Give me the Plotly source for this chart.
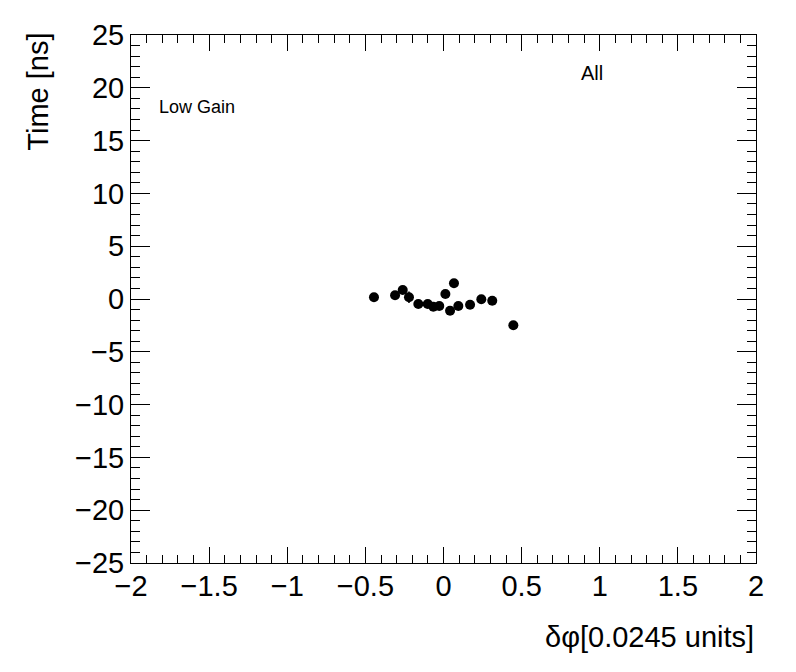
import plotly.graph_objects as go

dphi = [-0.445, -0.31, -0.261, -0.221, -0.161, -0.101, -0.065, -0.027, 0.012, 0.067, 0.042, 0.095, 0.170, 0.242, 0.312, 0.447]
time_ns = [0.16, 0.35, 0.85, 0.16, -0.47, -0.47, -0.73, -0.66, 0.47, 1.49, -1.11, -0.66, -0.54, -0.03, -0.16, -2.49]
time_err = [0.3, 0.3, 0.3, 0.55, 0.3, 0.3, 0.3, 0.3, 0.3, 0.3, 0.3, 0.3, 0.3, 0.3, 0.3, 0.3]

x_ticks = [-2, -1.5, -1, -0.5, 0, 0.5, 1, 1.5, 2]
x_ticklabels = ["\u22122", "\u22121.5", "\u22121", "\u22120.5", "0", "0.5", "1", "1.5", "2"]
y_ticks = [-25, -20, -15, -10, -5, 0, 5, 10, 15, 20, 25]
y_ticklabels = ["\u221225", "\u221220", "\u221215", "\u221210", "\u22125", "0", "5", "10", "15", "20", "25"]

FONT = "Liberation Sans, Arial, Helvetica, sans-serif"

fig = go.Figure()
fig.add_trace(go.Scatter(
    x=dphi, y=time_ns, mode="markers",
    marker=dict(color="black", size=10, symbol="circle"),
    error_y=dict(type="data", array=time_err, color="black", thickness=1.5, width=0),
    showlegend=False,
))

axis_common = dict(
    showgrid=False, zeroline=False, showline=True, linecolor="black", linewidth=1,
    mirror="ticks", ticks="inside", tickcolor="black", tickwidth=1,
    tickfont=dict(family=FONT, size=29, color="black"),
)

fig.update_xaxes(
    range=[-2, 2], tickvals=x_ticks, ticktext=x_ticklabels, ticklen=16,
    ticklabelstandoff=-3,
    minor=dict(dtick=0.1, ticklen=8, ticks="inside", tickcolor="black", showgrid=False),
    **axis_common,
)
fig.update_yaxes(
    range=[-25, 25], tickvals=y_ticks, ticktext=y_ticklabels, ticklen=19,
    minor=dict(dtick=1, ticklen=9, ticks="inside", tickcolor="black", showgrid=False),
    **axis_common,
)

fig.update_layout(
    width=796, height=672,
    margin=dict(l=123, r=48, t=27, b=117),
    plot_bgcolor="white", paper_bgcolor="white",
    font=dict(family=FONT, color="black"),
    annotations=[
        dict(text="Time [ns]", xref="paper", yref="paper", x=-0.149, y=1.008,
             xanchor="center", yanchor="top", textangle=-90, showarrow=False,
             font=dict(size=29, family=FONT)),
        dict(text="\u03b4\u03c6[0.0245 units]", xref="paper", yref="paper", x=1.0, y=-0.140,
             xanchor="right", yanchor="middle", showarrow=False,
             font=dict(size=29, family=FONT)),
        dict(text="Low Gain", xref="paper", yref="paper", x=0.042, y=0.864,
             xanchor="left", yanchor="middle", showarrow=False,
             font=dict(size=18, family=FONT)),
        dict(text="All", xref="paper", yref="paper", x=0.717, y=0.928,
             xanchor="left", yanchor="middle", showarrow=False,
             font=dict(size=20, family=FONT)),
    ],
)

fig.write_html("out.html")
